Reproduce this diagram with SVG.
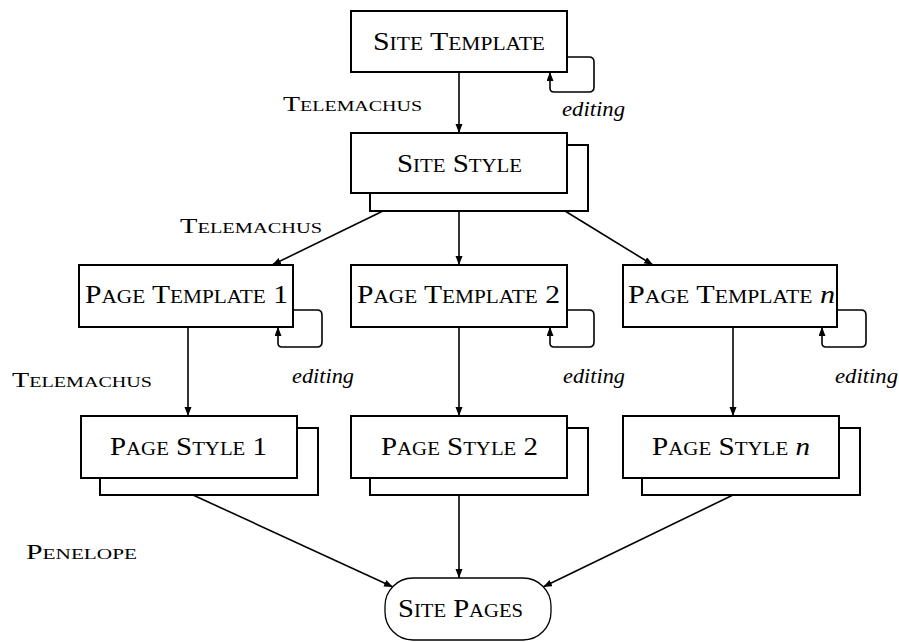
<svg xmlns="http://www.w3.org/2000/svg" width="899" height="642" viewBox="0 0 899 642">
<style>
.box{fill:#fff;stroke:#000;stroke-width:2}
.lbl{font-family:"Liberation Serif","DejaVu Serif",serif;font-size:25px;font-variant:small-caps;fill:#000}
.lab{font-family:"Liberation Serif","DejaVu Serif",serif;font-size:21px;font-variant:small-caps;fill:#000}
.ed{font-family:"Liberation Serif","DejaVu Serif",serif;font-size:21px;font-style:italic;fill:#000}
.it{font-style:italic;font-variant:normal}
.c{fill:none;stroke:#000;stroke-width:1.6}
</style>
<defs>
<marker id="ah" markerUnits="userSpaceOnUse" markerWidth="10" markerHeight="8" refX="9" refY="3.5" orient="auto">
<path d="M0,0 L9,3.5 L0,7 z" fill="#000"/>
</marker>
</defs>
<rect width="899" height="642" fill="#fff"/>

<g id="connectors">
<line class="c" x1="459" y1="72" x2="459" y2="133" marker-end="url(#ah)"/>
<path class="c" d="M567,57 H589 Q594,57 594,62 V87 Q594,92 589,92 H554 Q550,92 550,88 V72" marker-end="url(#ah)"/>
<line class="c" x1="383" y1="211" x2="272" y2="265" marker-end="url(#ah)"/>
<line class="c" x1="459" y1="211" x2="459" y2="265" marker-end="url(#ah)"/>
<line class="c" x1="565" y1="211" x2="653" y2="265" marker-end="url(#ah)"/>
<path class="c" d="M293,310 H317 Q322,310 322,315 V342 Q322,347 317,347 H282 Q278,347 278,343 V327" marker-end="url(#ah)"/>
<path class="c" d="M567,310 H589 Q594,310 594,315 V342 Q594,347 589,347 H554 Q550,347 550,343 V327" marker-end="url(#ah)"/>
<path class="c" d="M837,310 H861 Q866,310 866,315 V342 Q866,347 861,347 H826 Q822,347 822,343 V327" marker-end="url(#ah)"/>
<line class="c" x1="188" y1="327" x2="188" y2="416" marker-end="url(#ah)"/>
<line class="c" x1="459" y1="327" x2="459" y2="416" marker-end="url(#ah)"/>
<line class="c" x1="733" y1="327" x2="733" y2="416" marker-end="url(#ah)"/>
<line class="c" x1="193" y1="495" x2="393" y2="587" marker-end="url(#ah)"/>
<line class="c" x1="459" y1="495" x2="459" y2="578" marker-end="url(#ah)"/>
<line class="c" x1="733" y1="495" x2="543" y2="587" marker-end="url(#ah)"/>
</g>

<g id="site-template">
<rect class="box" x="351" y="11" width="216" height="61"/>
<text class="lbl" x="373" y="50" textLength="172" lengthAdjust="spacingAndGlyphs">Site Template</text>
</g>

<g id="site-style">
<rect class="box" x="370" y="145" width="218" height="66"/>
<rect class="box" x="351" y="133" width="216" height="60"/>
<text class="lbl" x="397" y="172" textLength="125" lengthAdjust="spacingAndGlyphs">Site Style</text>
</g>

<g id="page-template-1">
<rect class="box" x="79" y="265" width="214" height="62"/>
<text class="lbl" x="85" y="303" textLength="203" lengthAdjust="spacingAndGlyphs">Page Template 1</text>
</g>

<g id="page-template-2">
<rect class="box" x="351" y="265" width="216" height="62"/>
<text class="lbl" x="357" y="303" textLength="203" lengthAdjust="spacingAndGlyphs">Page Template 2</text>
</g>

<g id="page-template-n">
<rect class="box" x="623" y="265" width="214" height="62"/>
<text class="lbl" x="628" y="303" textLength="207" lengthAdjust="spacingAndGlyphs">Page Template <tspan class="it">n</tspan></text>
</g>

<g id="page-style-1">
<rect class="box" x="100" y="428" width="218" height="67"/>
<rect class="box" x="81" y="416" width="216" height="62"/>
<text class="lbl" x="110" y="455" textLength="157" lengthAdjust="spacingAndGlyphs">Page Style 1</text>
</g>

<g id="page-style-2">
<rect class="box" x="370" y="428" width="218" height="67"/>
<rect class="box" x="351" y="416" width="216" height="62"/>
<text class="lbl" x="381" y="455" textLength="157" lengthAdjust="spacingAndGlyphs">Page Style 2</text>
</g>

<g id="page-style-n">
<rect class="box" x="642" y="428" width="218" height="67"/>
<rect class="box" x="623" y="416" width="216" height="62"/>
<text class="lbl" x="652" y="455" textLength="158" lengthAdjust="spacingAndGlyphs">Page Style <tspan class="it">n</tspan></text>
</g>

<g id="site-pages">
<rect x="385" y="578" width="166" height="62" rx="28" ry="28" fill="#fff" stroke="#000" stroke-width="1.3"/>
<text class="lbl" x="398" y="617" textLength="125" lengthAdjust="spacingAndGlyphs">Site Pages</text>
</g>

<g id="labels">
<text class="lab" x="283" y="111" textLength="139" lengthAdjust="spacingAndGlyphs">Telemachus</text>
<text class="lab" x="180" y="233" textLength="142" lengthAdjust="spacingAndGlyphs">Telemachus</text>
<text class="lab" x="12" y="387" textLength="140" lengthAdjust="spacingAndGlyphs">Telemachus</text>
<text class="lab" x="26" y="559" textLength="111" lengthAdjust="spacingAndGlyphs">Penelope</text>
<text class="ed" x="562" y="116" textLength="63" lengthAdjust="spacingAndGlyphs">editing</text>
<text class="ed" x="292" y="383" textLength="62" lengthAdjust="spacingAndGlyphs">editing</text>
<text class="ed" x="563" y="383" textLength="62" lengthAdjust="spacingAndGlyphs">editing</text>
<text class="ed" x="835" y="383" textLength="63" lengthAdjust="spacingAndGlyphs">editing</text>
</g>
</svg>
